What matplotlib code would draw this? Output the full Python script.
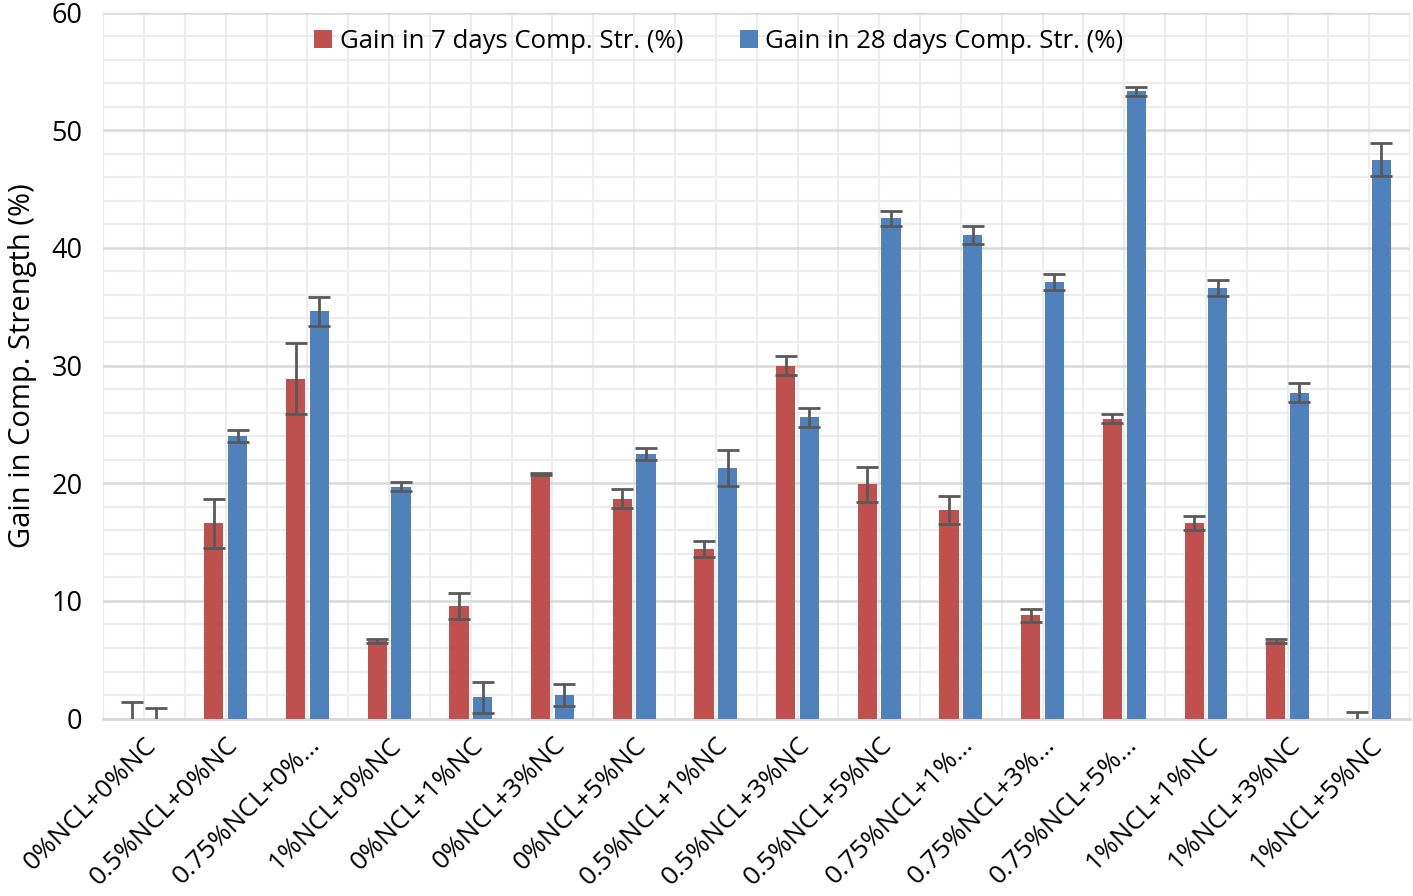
import numpy as np
import matplotlib.pyplot as plt
from matplotlib.ticker import MultipleLocator

labels = ['0%NCL+0%NC', '0.5%NCL+0%NC', '0.75%NCL+0%…', '1%NCL+0%NC',
          '0%NCL+1%NC', '0%NCL+3%NC', '0%NCL+5%NC', '0.5%NCL+1%NC',
          '0.5%NCL+3%NC', '0.5%NCL+5%NC', '0.75%NCL+1%…', '0.75%NCL+3%…',
          '0.75%NCL+5%…', '1%NCL+1%NC', '1%NCL+3%NC', '1%NCL+5%NC']
gain7 = [0, 16.6, 28.9, 6.6, 9.6, 20.8, 18.7, 14.4, 30.0, 19.9, 17.7, 8.8, 25.5, 16.6, 6.6, 0]
err7 = [1.4, 2.1, 3.0, 0.2, 1.1, 0.1, 0.8, 0.7, 0.8, 1.5, 1.2, 0.55, 0.4, 0.6, 0.2, 0.6]
gain28 = [0, 24.0, 34.6, 19.7, 1.8, 2.0, 22.5, 21.3, 25.6, 42.5, 41.1, 37.1, 53.3, 36.6, 27.7, 47.5]
err28 = [0.9, 0.5, 1.2, 0.4, 1.3, 0.9, 0.5, 1.5, 0.8, 0.6, 0.8, 0.7, 0.4, 0.7, 0.8, 1.4]

plt.rcParams['font.family'] = ['Open Sans', 'DejaVu Sans']

fig, ax = plt.subplots(figsize=(14.13, 8.96), dpi=100)
fig.subplots_adjust(left=0.073, right=0.998, top=0.986, bottom=0.198)

x = np.arange(len(labels))
w = 0.235
off = 0.145
ekw = dict(ecolor='#595959', elinewidth=2, capsize=8, capthick=2)
ax.bar(x - off, gain7, w, color='#C0504D', yerr=err7, error_kw=ekw,
       label='Gain in 7 days Comp. Str. (%)', zorder=3)
ax.bar(x + off, gain28, w, color='#4F81BD', yerr=err28, error_kw=ekw,
       label='Gain in 28 days Comp. Str. (%)', zorder=3)

ax.set_xlim(-0.5, len(labels) - 0.5)
ax.set_ylim(0, 60)
ax.yaxis.set_major_locator(MultipleLocator(10))
ax.yaxis.set_minor_locator(MultipleLocator(2))
ax.xaxis.set_minor_locator(MultipleLocator(0.5))
ax.set_xticks(x)
ax.set_xticklabels(labels, rotation=45, ha='right', rotation_mode='anchor', fontsize=19)
ax.tick_params(axis='y', labelsize=19.5, pad=15)
ax.tick_params(which='both', length=0)
ax.tick_params(axis='x', pad=10)

ax.grid(True, which='major', axis='y', color='#D9D9D9', lw=1.8, zorder=0)
ax.grid(True, which='minor', axis='y', color='#EDEDED', lw=1.5, zorder=0)
ax.grid(True, which='both', axis='x', color='#EDEDED', lw=1.5, zorder=0)
for s in ['top', 'right', 'left']:
    ax.spines[s].set_visible(False)
ax.spines['bottom'].set_color('#D9D9D9')
ax.spines['bottom'].set_linewidth(2)

ax.set_ylabel('Gain in Comp. Strength (%)', fontsize=21, labelpad=10)
ax.legend(loc='upper center', ncol=2, frameon=False, fontsize=18.5,
          bbox_to_anchor=(0.471, 1.01), handlelength=0.7, handleheight=0.7,
          columnspacing=2.2, handletextpad=0.3)

plt.savefig('out.png')
